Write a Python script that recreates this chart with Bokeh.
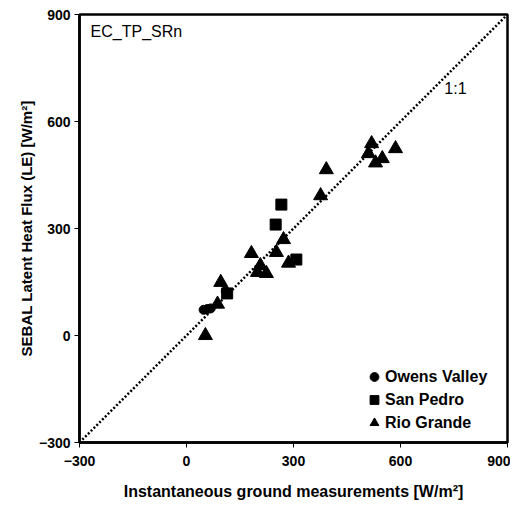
from bokeh.plotting import figure
from bokeh.models import Range1d, FixedTicker, Label, Legend, LegendItem
from bokeh.embed import file_html
from bokeh.resources import INLINE

# Data
owens_x = [48, 58, 68, 110]
owens_y = [72, 74, 76, 124]
sanpedro_x = [266, 250, 308, 114]
sanpedro_y = [367, 311, 213, 118]
rio_x = [519, 510, 586, 530, 549, 392, 376, 272, 252, 182, 207, 199, 224, 286, 96, 87, 53]
rio_y = [538, 510, 524, 484, 496, 465, 392, 269, 233, 230, 196, 177, 174, 203, 149, 88, 0]
ticks = [-300, 0, 300, 600, 900]
one_x = [-300, 900]
one_y = [-300, 900]

FONT = "Liberation Sans"

p = figure(width=510, height=506, output_backend="svg", toolbar_location=None,
           x_range=Range1d(-300, 900), y_range=Range1d(-300, 900),
           min_border_left=79, min_border_right=3, min_border_top=14, min_border_bottom=64)
p.grid.visible = False
p.outline_line_color = "black"
p.outline_line_width = 2.5
p.background_fill_color = "white"

for ax in (p.xaxis[0], p.yaxis[0]):
    ax.ticker = FixedTicker(ticks=ticks)
    ax.minor_tick_line_color = None
    ax.major_tick_in = 0
    ax.major_tick_out = 5
    ax.major_tick_line_color = "black"
    ax.major_tick_line_width = 1
    ax.axis_line_color = "black"
    ax.axis_line_width = 2.5
    ax.major_label_text_font = FONT
    ax.major_label_text_font_style = "bold"
    ax.major_label_text_font_size = "14px"
    ax.major_label_text_color = "black"
    ax.axis_label_text_font = FONT
    ax.axis_label_text_font_style = "bold"
    ax.axis_label_text_font_size = "16px"
    ax.axis_label_text_color = "black"

p.xaxis.axis_label = "Instantaneous ground measurements [W/m²]"
p.yaxis.axis_label = "SEBAL Latent Heat Flux (LE) [W/m²]"
p.yaxis.axis_label_text_font_size = "15px"
p.xaxis.major_label_standoff = 8
p.xaxis.axis_label_standoff = 14
p.yaxis.major_label_standoff = 4
p.yaxis.axis_label_standoff = 1

p.line(one_x, one_y, line_color="black", line_width=2.5, line_dash="2 2")

r_ow = p.scatter(owens_x, owens_y, marker="circle", size=9, color="black")
r_sp = p.scatter(sanpedro_x, sanpedro_y, marker="square", size=11, color="black")
r_rg = p.scatter(rio_x, rio_y, marker="triangle", size=14, color="black")

legend = Legend(items=[
    LegendItem(label="Owens Valley", renderers=[r_ow]),
    LegendItem(label="San Pedro", renderers=[r_sp]),
    LegendItem(label="Rio Grande", renderers=[r_rg]),
], location=(284, 8))
legend.border_line_color = None
legend.background_fill_alpha = 0
legend.label_text_font = FONT
legend.label_text_font_style = "bold"
legend.label_text_font_size = "16px"
legend.label_text_color = "black"
legend.glyph_width = 22
legend.glyph_height = 23
legend.label_height = 23
legend.label_standoff = 0
legend.spacing = 0
legend.margin = 0
legend.padding = 0
p.add_layout(legend)

p.add_layout(Label(x=-269, y=852, text="EC_TP_SRn", text_font=FONT, text_font_size="16px",
                   text_baseline="middle", text_align="left", text_color="black"))
p.add_layout(Label(x=754, y=692, text="1:1", text_font=FONT, text_font_size="16px",
                   text_baseline="middle", text_align="center", text_color="black"))

open("out.html", "w").write(file_html(p, INLINE))
